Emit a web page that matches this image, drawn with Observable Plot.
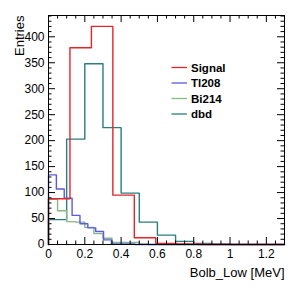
<!DOCTYPE html>
<html><head><meta charset="utf-8">
<script src="https://cdn.jsdelivr.net/npm/d3@7"></script>
<script src="https://cdn.jsdelivr.net/npm/@observablehq/plot@0.6"></script>
<style>
body{margin:0;background:#fff}
#chart{position:relative;width:299px;height:291px}
#chart svg{font-family:"Liberation Sans",Arial,Helvetica,sans-serif}
</style>
</head><body><div id="chart"></div>
<script>
// x range of all histograms
const xMin = 0, xMax = 1.3;
// bin contents (equal-width bins across [xMin, xMax])
const signalValues = [88, 379, 420, 95, 13, 2, 1, 0, 0, 0, 0];
const tl208Values = [134, 107, 89, 56, 40, 32, 25, 9, 1, 1, 1, 0, 0, 0, 0, 0, 0, 0, 0, 0, 0, 0, 0, 0, 0, 0, 0, 0, 0, 0];
const bi214Values = [87, 65, 44, 43, 33, 21, 12, 4, 4, 4, 1, 0, 0, 0, 0, 0, 0, 0, 0, 0, 0, 0, 0, 0, 0, 0];
const dbdValues = [48, 203, 348, 225, 99, 43, 18, 6, 2, 1, 0, 0, 0];
const seriesNames = ["Signal", "Tl208", "Bi214", "dbd"];
const seriesColors = ["#e5242b", "#5a5ae0", "#85b985", "#2a7e7e"];
// axis ticks
const yMajor = [0, 50, 100, 150, 200, 250, 300, 350, 400];
const yMinor = d3.range(0, 441, 10).filter(v => v % 50 !== 0);
const xMajor = [0, 0.2, 0.4, 0.6, 0.8, 1, 1.2];
const xMinor = d3.range(0, 26).map(i => i * 0.05).filter(v => Math.abs(v / 0.2 - Math.round(v / 0.2)) > 1e-6);
const yMax = 441;

const W = 299, H = 291, mL = 48, mR = 15, mT = 15, mB = 47;
const pW = W - mL - mR, pH = H - mT - mB;

function steps(values, name) {
  const w = (xMax - xMin) / values.length;
  const pts = [{x: xMin, y: 0, s: name}];
  values.forEach((v, i) => pts.push({x: xMin + i * w, y: v, s: name}));
  pts.push({x: xMax, y: values[values.length - 1], s: name});
  return pts;
}
const allSeries = [signalValues, tl208Values, bi214Values, dbdValues];
const drawOrder = [3, 2, 1, 0];

const marks = [];
for (const k of drawOrder) {
  marks.push(Plot.line(steps(allSeries[k], seriesNames[k]), {x: "x", y: "y", curve: "step-after", stroke: seriesColors[k], strokeWidth: 1.4}));
}
marks.push(
  Plot.tickY(yMajor, {y: d => d, insetRight: pW - 7, stroke: "#000"}),
  Plot.tickY(yMinor, {y: d => d, insetRight: pW - 3.5, stroke: "#000"}),
  Plot.tickY(yMajor, {y: d => d, insetLeft: pW - 7, stroke: "#000"}),
  Plot.tickY(yMinor, {y: d => d, insetLeft: pW - 3.5, stroke: "#000"}),
  Plot.tickX(xMajor, {x: d => d, insetTop: pH - 7, stroke: "#000"}),
  Plot.tickX(xMinor, {x: d => d, insetTop: pH - 3.5, stroke: "#000"}),
  Plot.tickX(xMajor, {x: d => d, insetBottom: pH - 7, stroke: "#000"}),
  Plot.tickX(xMinor, {x: d => d, insetBottom: pH - 3.5, stroke: "#000"}),
  Plot.frame({stroke: "#000", strokeWidth: 1}),
  Plot.axisY(yMajor, {tickSize: 0, tickPadding: 4, label: null, fontSize: 12, fill: "#000"}),
  Plot.axisX(xMajor, {tickSize: 0, tickPadding: 5, label: null, fontSize: 12, fill: "#000", tickFormat: d => String(+d.toFixed(1))}),
  Plot.text(["Entries"], {text: d => d, frameAnchor: "top-left", dx: -34, dy: 0, rotate: -90, textAnchor: "end", fontSize: 13, fill: "#000"}),
  Plot.text(["Bolb_Low [MeV]"], {text: d => d, frameAnchor: "bottom-right", dx: 0, dy: 32, textAnchor: "end", fontSize: 13, fill: "#000"})
);

const chart = Plot.plot({
  width: W, height: H,
  marginLeft: mL, marginRight: mR, marginTop: mT, marginBottom: mB,
  x: {domain: [xMin, xMax], axis: null},
  y: {domain: [0, yMax], axis: null},
  style: {fontFamily: "Liberation Sans, Arial, Helvetica, sans-serif", background: "#fff", overflow: "visible"},
  marks
});
document.getElementById("chart").appendChild(chart);

// legend (inside frame)
const svg = d3.select(chart);
const lg = svg.append("g").attr("font-family", "Liberation Sans, Arial, sans-serif").attr("font-weight", "bold").attr("font-size", 11.5).attr("text-anchor", "start");
seriesNames.forEach((name, i) => {
  const y = 67.5 + i * 15.5;
  lg.append("line").attr("x1", 171.5).attr("x2", 187).attr("y1", y).attr("y2", y).attr("stroke", seriesColors[i]).attr("stroke-width", 1.3);
  lg.append("text").attr("x", 191).attr("y", y).attr("dy", "0.35em").attr("text-anchor", "start").attr("fill", "#000").text(name);
});
</script>
</body></html>
